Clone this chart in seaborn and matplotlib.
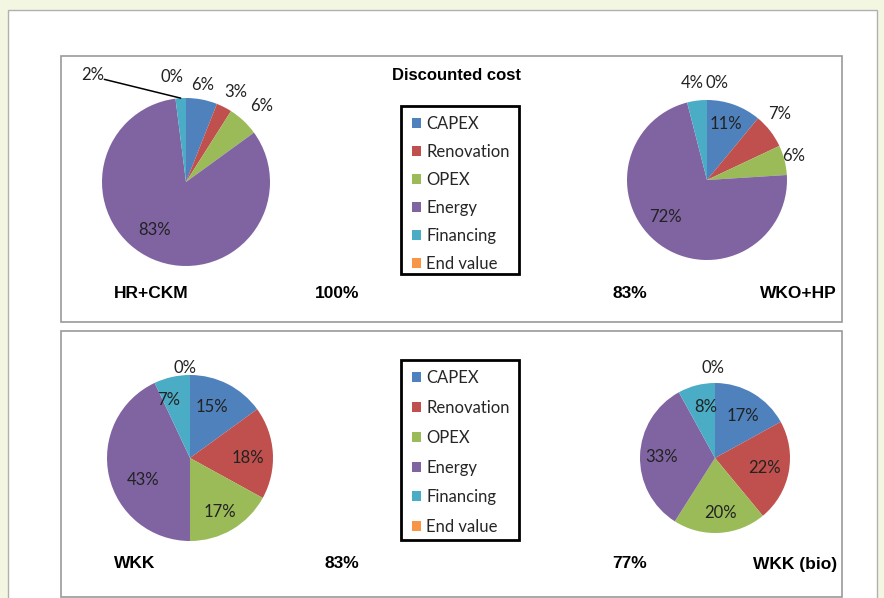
import numpy as np
import matplotlib
matplotlib.use("Agg")
import matplotlib.pyplot as plt
from matplotlib.patches import Rectangle, Patch
from matplotlib import font_manager
import seaborn as sns

# ---------------- data ----------------
categories = ["CAPEX", "Renovation", "OPEX", "Energy", "Financing", "End value"]
hr_ckm = [6, 3, 6, 83, 2, 0]
wko_hp = [11, 7, 6, 72, 4, 0]
wkk = [15, 18, 17, 43, 7, 0]
wkk_bio = [17, 22, 20, 33, 8, 0]
scenario_names = ["HR+CKM", "WKO+HP", "WKK", "WKK (bio)"]
relative_totals = ["100%", "83%", "83%", "77%"]
chart_title = "Discounted cost"

# ---------------- style / layout ----------------
sns.set_theme(style="white")
palette = sns.color_palette(["#4F81BD", "#C0504D", "#9BBB59", "#8064A2", "#4BACC6", "#F79646"])

names_avail = {f.name for f in font_manager.fontManager.ttflist}
label_font = "Lato" if "Lato" in names_avail else "DejaVu Sans"
bold_font = "Liberation Sans" if "Liberation Sans" in names_avail else "DejaVu Sans"
plt.rcParams["font.family"] = [label_font, "DejaVu Sans"]

W, H = 884, 598
fig = plt.figure(figsize=(W / 100, H / 100), dpi=100)
fig.patch.set_facecolor("#f3f7e1")
ax = fig.add_axes([0, 0, 1, 1])
ax.set_axis_off()


def Y(y):
    return H - y


# background white sheet and panels
ax.add_patch(Rectangle((8, Y(600)), 869, 590, facecolor="white", edgecolor="#b0b0b0", lw=1, zorder=0))
ax.add_patch(Rectangle((61, Y(322)), 781, 266, facecolor="white", edgecolor="#9a9a9a", lw=1.2, zorder=1))
ax.add_patch(Rectangle((61, Y(597)), 781, 266, facecolor="white", edgecolor="#9a9a9a", lw=1.2, zorder=1))

# legend frames
ax.add_patch(Rectangle((401, Y(274)), 118, 168, facecolor="white", edgecolor="black", lw=2, zorder=2))
ax.add_patch(Rectangle((401, Y(540)), 118, 180, facecolor="white", edgecolor="black", lw=2, zorder=2))

# pie geometry (center x, center y, radius) in pixels
pies = [
    (hr_ckm, (186, 182), 84),
    (wko_hp, (707, 180), 80),
    (wkk, (190, 458), 83),
    (wkk_bio, (715, 458), 75),
]
# label placement: (radial factor, angle shift in degrees) per slice
label_layout = [
    [(1.17, 0.9), (1.22, -2.1), (1.28, -1.8), (0.68, -9.5), (1.69, 37.7), (1.26, 7.6)],
    [(0.74, 1.1), (1.23, 4.3), (1.12, 1.2), (0.70, -12.6), (1.23, 1.6), (1.22, -5.9)],
    [(0.67, 3.7), (0.70, -3.6), (0.74, -1.5), (0.63, 12.5), (0.74, 7.3), (1.09, 3.2)],
    [(0.67, -3.1), (0.67, -0.7), (0.74, 2.6), (0.71, 0.7), (0.69, -4.4), (1.20, 1.3)],
]

for pi, (vals, (cx, cy), r) in enumerate(pies):
    ax.pie(vals, center=(cx, Y(cy)), radius=r, startangle=90, counterclock=False,
           colors=palette, wedgeprops=dict(linewidth=0), frame=True)
    total = float(sum(vals))
    cum = 0.0
    for si, v in enumerate(vals):
        mid = 90 - 360 * (cum + v / 2) / total
        cum += v
        f, d = label_layout[pi][si]
        a = np.deg2rad(mid + d)
        tx, ty = cx + f * r * np.cos(a), Y(cy) + f * r * np.sin(a)
        ax.text(tx, ty, f"{v:.0f}%", ha="center", va="center", fontsize=12,
                color="#222222", zorder=5)
        if f > 1.5:  # leader line for far-away label
            ex, ey = cx + r * np.cos(np.deg2rad(mid)), Y(cy) + r * np.sin(np.deg2rad(mid))
            ax.plot([tx + 12, ex], [ty - 4, ey], color="black", lw=1.1, zorder=5)

# scenario names and relative totals
name_pos = [(114, 293, "left"), (837, 293, "right"), (114, 564, "left"), (837, 564, "right")]
total_pos = [(359, 293), (647, 293), (359, 564), (647, 564)]
for (nx, ny, ha), name in zip(name_pos, scenario_names):
    ax.text(nx, Y(ny), name, ha=ha, va="center", fontsize=12.5, fontweight="bold",
            family=bold_font, color="black")
for (tx, ty), t in zip(total_pos, relative_totals):
    ax.text(tx, Y(ty), t, ha="right", va="center", fontsize=12.5, fontweight="bold",
            family=bold_font, color="black")

ax.text(457, Y(76), chart_title, ha="center", va="center", fontsize=12, fontweight="bold",
        family=bold_font, color="black")

ax.set_xlim(0, W)
ax.set_ylim(0, H)
ax.set_aspect("equal")

# legends (entries only; frames drawn above)
handles = [Patch(facecolor=c, edgecolor="none") for c in palette]
for top, spacing in [(116, 0.72), (370, 0.83)]:
    leg = fig.legend(handles, categories, loc="upper left",
                     bbox_to_anchor=(412 / W, 1 - top / H), bbox_transform=fig.transFigure,
                     borderaxespad=0, frameon=False,
                     fontsize=12, handlelength=0.55, handleheight=0.55, handletextpad=0.3,
                     labelspacing=spacing, borderpad=0, labelcolor="#262626")

fig.savefig("out.png", dpi=100, facecolor=fig.get_facecolor())
